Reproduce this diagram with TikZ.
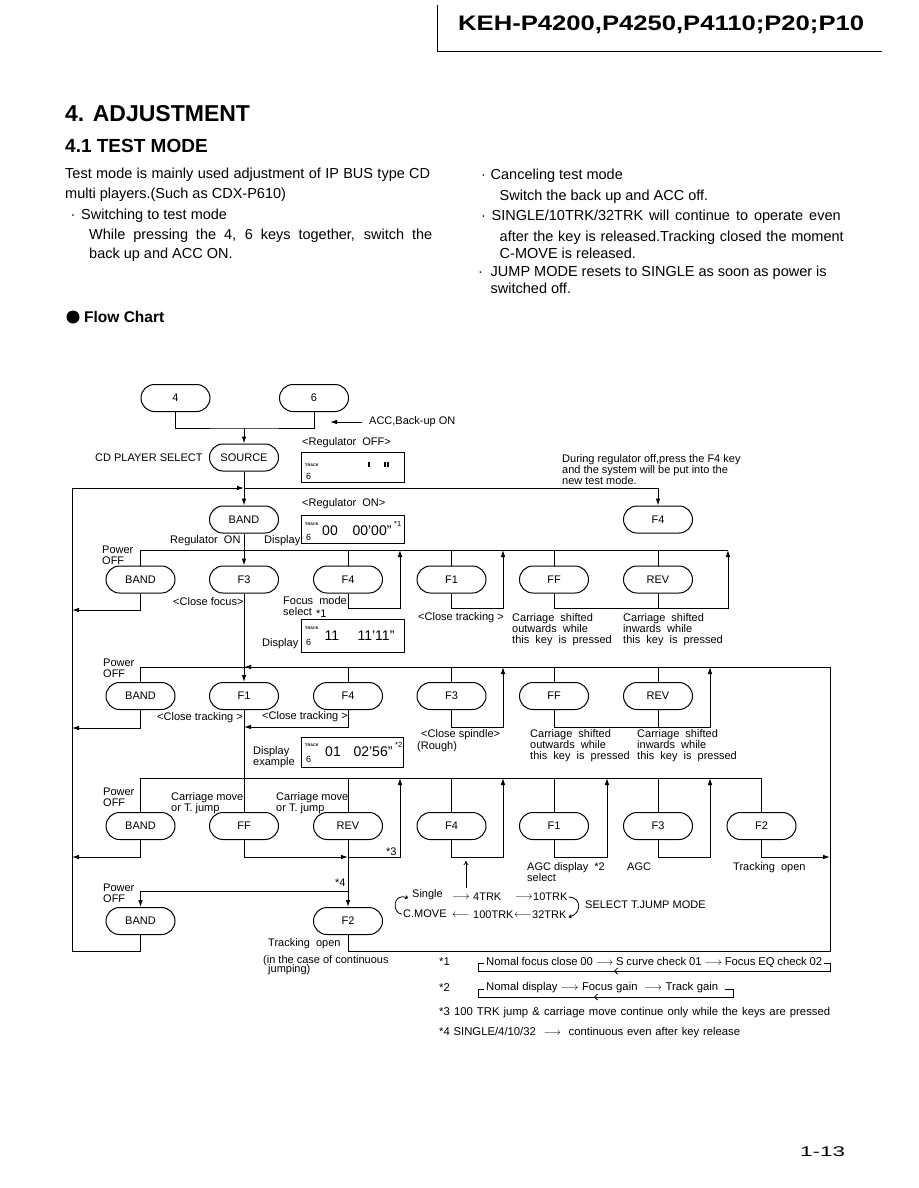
\documentclass[tikz,border=0pt]{standalone}
\usepackage{fontspec}
\usepackage{graphicx}
\setmainfont{Liberation Sans}
\usetikzlibrary{arrows.meta}
\newcommand\fl{\fontsize{11}{11}\selectfont}
\newcommand\bd{\fontsize{14.5}{17}\selectfont}
\newcommand\fnt{\fontsize{11.3}{12}\selectfont}
\newcommand\seg{\fontsize{14}{14}\selectfont}
\newcommand\trk{\fontsize{3.8}{4}\selectfont\bfseries}
\begin{document}
\begin{tikzpicture}[x=1pt,y=-1pt,
 ln/.style={line width=1pt},
 arr/.style={line width=1pt,-{Latex[length=7pt,width=4.6pt]}},
 pill/.style={draw,line width=1pt,rounded corners=13.5pt,minimum width=69pt,minimum height=27pt,inner sep=0pt,font=\fl},
 disp/.style={draw,line width=1pt,anchor=north west,inner sep=0pt},
 tx/.style={inner sep=0pt,anchor=west,font=\fl},
 txm/.style={inner sep=0pt,anchor=north west,align=left,font=\fl},
 bt/.style={inner sep=0pt,anchor=base west,font=\bd},
 fn/.style={inner sep=0pt,anchor=west,font=\fnt},
 sg/.style={inner sep=0pt,font=\seg},
 tk/.style={inner sep=0pt,anchor=west,font=\trk},
 six/.style={inner sep=0pt,anchor=west,font=\fontsize{9}{9}\selectfont},
 thinl/.style={line width=0.8pt}]
\useasboundingbox (0,0) rectangle (918,1188);
% header
\draw[ln] (437,5) -- (437,52) -- (882,52);
\node[inner sep=0pt,anchor=west] (title) at (458,25) {\scalebox{1.22}[1]{\bfseries\fontsize{21}{21}\selectfont KEH-P4200,P4250,P4110;P20;P10}};
% headings
\node[inner sep=0pt,anchor=base west,font=\bfseries\fontsize{23}{23}\selectfont] (h1) at (65,122) {4. ADJUSTMENT};
\node[inner sep=0pt,anchor=base west,font=\bfseries\fontsize{19}{19}\selectfont] (h2) at (65,153) {4.1 TEST MODE};
% body
\node[bt] (l1) at (65,178.5) {\makebox[365pt][s]{Test mode is mainly used adjustment of IP BUS type CD}};
\node[bt] (l2) at (65,198) {multi players.(Such as CDX-P610)};
\node[bt] (l3b) at (70.5,219) {·};
\node[bt] (l3) at (81,219) {Switching to test mode};
\node[bt] (l4) at (89,239.5) {\makebox[343pt][s]{While pressing the 4, 6 keys together, switch the}};
\node[bt] (l5) at (89,258.5) {back up and ACC ON.};
\node[bt] (r1b) at (481,179) {·};
\node[bt] (r1) at (490.5,179) {Canceling test mode};
\node[bt] (r2) at (499.5,200) {Switch the back up and ACC off.};
\node[bt] (r3b) at (481,220) {·};
\node[bt] (r3) at (491.5,220) {\makebox[349pt][s]{SINGLE/10TRK/32TRK will continue to operate even}};
\node[bt] (r4) at (499.5,241) {\makebox[344pt][s]{after the key is released.Tracking closed the moment}};
\node[bt] (r5) at (499.5,258.5) {C-MOVE is released.};
\node[bt] (r6b) at (478,276.5) {·};
\node[bt] (r6) at (490.5,276.5) {JUMP MODE resets to SINGLE as soon as power is};
\node[bt] (r7) at (490.5,293.5) {switched off.};
% flow chart title
\node[circle,fill,inner sep=0pt,minimum size=13pt] (bul) at (73,317) {};
\node[inner sep=0pt,anchor=base west,font=\bfseries\fontsize{15.5}{16}\selectfont] (fc) at (84,322.5) {Flow Chart};
% pills
\node[pill] (k4) at (175.5,398) {4};
\node[pill] (k6) at (314,398) {6};
\node[pill] (src) at (244,457.5) {SOURCE};
\node[pill] (band0) at (244,519.5) {BAND};
\node[pill] (f4n) at (658,519.5) {F4};
\node[pill] (a1) at (140.5,579.5) {BAND};
\node[pill] (a2) at (244,579.5) {F3};
\node[pill] (a3) at (348,579.5) {F4};
\node[pill] (a4) at (451.5,579.5) {F1};
\node[pill] (a5) at (554,579.5) {FF};
\node[pill] (a6) at (658,579.5) {REV};
\node[pill] (b1) at (140.5,696) {BAND};
\node[pill] (b2) at (244,696) {F1};
\node[pill] (b3) at (348,696) {F4};
\node[pill] (b4) at (451.5,696) {F3};
\node[pill] (b5) at (554,696) {FF};
\node[pill] (b6) at (658,696) {REV};
\node[pill] (c1) at (140.5,826) {BAND};
\node[pill] (c2) at (244,826) {FF};
\node[pill] (c3) at (348,826) {REV};
\node[pill] (c4) at (451.5,826) {F4};
\node[pill] (c5) at (554,826) {F1};
\node[pill] (c6) at (658,826) {F3};
\node[pill] (c7) at (761.5,826) {F2};
\node[pill] (d1) at (140.5,921) {BAND};
\node[pill] (d2) at (348,921) {F2};
% coordinates
\coordinate (j0) at (244,428);
\coordinate (lbtop) at (72,488);
\coordinate (j1) at (244,488);
\coordinate (lbot) at (72,951);
\coordinate (rtop) at (830,667);
\coordinate (rbot) at (830,951);
\coordinate (e1) at (728,550);
\coordinate (e3) at (761.5,778);
\coordinate (j4) at (348,891);
\coordinate (acctip) at (330,422);
% top connectors
\draw[ln] (k4.south) |- (j0) -| (k6.south);
\draw[arr] (j0) -- (src.north);
\draw[arr] (src.south) -- (band0.north);
\draw[arr] (lbtop) -- (j1);
\draw[arr] (j1) -| (f4n.north);
\draw[ln] (d1.south) |- (lbot) -- (lbtop);
\draw[ln] (d2.south) |- (rbot) -- (rtop);
% row 1
\draw[arr] (band0.south) -- (a2.north);
\draw[ln] (a1.north) |- (e1);
\draw[ln] (a3.north) -- (a3.north |- e1);
\draw[ln] (a4.north) -- (a4.north |- e1);
\draw[ln] (a5.north) -- (a5.north |- e1);
\draw[ln] (a6.north) -- (a6.north |- e1);
\draw[arr] (a1.south) |- (72,610);
\draw[arr] (a3.south) |- (400,608) -- (400,550);
\draw[arr] (a4.south) |- (503,608) -- (503,550);
\draw[arr] (a5.south) |- (728,608) -- (e1);
\draw[ln] (a6.south) -- (658,608);
% row 2
\draw[arr] (a2.south) -- (b2.north);
\draw[ln] (b1.north) |- (rtop);
\draw[arr] (b3.north |- rtop) -- (b2.north |- rtop);
\draw[ln] (b3.north) -- (b3.north |- rtop);
\draw[ln] (b4.north) -- (b4.north |- rtop);
\draw[ln] (b5.north) -- (b5.north |- rtop);
\draw[ln] (b6.north) -- (b6.north |- rtop);
\draw[arr] (b1.south) |- (72,728);
\draw[arr] (b3.south) |- (244,727);
\draw[arr] (b4.south) |- (503,727) -- (503,667);
\draw[arr] (b5.south) |- (710,727) -- (710,667);
\draw[ln] (b6.south) -- (658,727);
% row 3
\draw[ln] (b2.south) -- (c2.north);
\draw[ln] (c1.north) |- (e3) -- (c7.north);
\draw[ln] (c3.north) -- (348,778);
\draw[ln] (c4.north) -- (451.5,778);
\draw[ln] (c5.north) -- (554,778);
\draw[ln] (c6.north) -- (658,778);
\draw[arr] (c1.south) |- (72,857);
\draw[arr] (c2.south) |- (348,857);
\draw[arr] (348,857) -- (400,857) -- (400,778);
\draw[ln] (c3.south) -- (j4);
\draw[arr] (j4) -- (d2.north);
\draw[arr] (j4) -| (d1.north);
\draw[arr] (c4.south) |- (503,857) -- (503,778);
\draw[arr] (c5.south) |- (607,857) -- (607,778);
\draw[arr] (c6.south) |- (710,857) -- (710,778);
\draw[arr] (c7.south) |- (830,857);
\draw[line width=0.7pt,-{To[length=4pt,width=5pt]}] (466,888) -- (466,861);
% display boxes
\node[disp,minimum width=103pt,minimum height=30pt] (dp0) at (301,452) {};
\node[tk] (dp0t) at (305,465) {TRACK};
\node[six] (dp0s) at (306,476) {6};
\fill (367.5,462) rectangle (369.5,467);
\fill (383.5,462) rectangle (385.5,467);
\fill (386.5,462) rectangle (388.5,467);
\node[disp,minimum width=103pt,minimum height=28pt] (dp1) at (301,515) {};
\node[tk] (dp1t) at (305,524) {TRACK};
\node[six] (dp1s) at (306,537) {6};
\node[sg] (dp1a) at (330,531) {00};
\node[sg] (dp1b) at (372,531) {00'00"};
\node[tx,font=\fontsize{7.5}{8}\selectfont] (dp1c) at (394,524) {*1};
\node[disp,minimum width=103pt,minimum height=33pt] (dp2) at (301,619) {};
\node[tk] (dp2t) at (305,628) {TRACK};
\node[six] (dp2s) at (306,642) {6};
\node[sg] (dp2a) at (332,636) {11};
\node[sg] (dp2b) at (376,636) {11'11"};
\node[disp,minimum width=102pt,minimum height=30pt] (dp3) at (301,737) {};
\node[tk] (dp3t) at (305,745) {TRACK};
\node[six] (dp3s) at (306,759) {6};
\node[sg] (dp3a) at (333,752) {01};
\node[sg] (dp3b) at (373,752) {02'56"};
\node[tx,font=\fontsize{7.5}{8}\selectfont] (dp3c) at (395,745) {*2};
% labels
\node[tx] (acc) at (369,422) {ACC,Back-up ON};
\draw[arr] ([xshift=-7pt]acc.west) -- (acctip);
\node[tx] (regoff) at (302,443) {<Regulator\ \ OFF>};
\node[tx] (cdsel) at (95,458) {CD PLAYER SELECT};
\node[tx] (regon) at (302,504) {<Regulator\ \ ON>};
\node[txm] (during) at (562,454) {During regulator off,press the F4 key\\and the system will be put into the\\new test mode.};
\node[tx] (regon2) at (170,541) {Regulator\ \ ON};
\node[tx] (dlab1) at (264,541) {Display};
\node[txm] (pw1) at (102,546) {Power\\OFF};
\node[txm] (pw2) at (103,659) {Power\\OFF};
\node[txm] (pw3) at (103,788) {Power\\OFF};
\node[txm] (pw4) at (103,884) {Power\\OFF};
\node[tx] (clf) at (173,602) {<Close focus>};
\node[tx] (fm) at (283,601) {Focus\ \ mode};
\node[tx] (sel1) at (283,612) {select};
\node[tx] (st1) at (316,613.5) {*1};
\node[tx] (dlab2) at (262,644) {Display};
\node[tx] (ct1) at (418,618) {<Close tracking >};
\node[txm] (cs1) at (512,613) {Carriage\ \ shifted\\outwards\ \ while\\this\ \ key\ \ is\ \ pressed};
\node[txm] (cs2) at (623,613) {Carriage\ \ shifted\\inwards\ \ while\\this\ \ key\ \ is\ \ pressed};
\node[tx] (ct2) at (157,718) {<Close tracking >};
\node[tx] (ct3) at (262,717) {<Close tracking >};
\node[tx] (csp) at (421,735) {<Close spindle>};
\node[tx] (rgh) at (417,747) {(Rough)};
\node[txm] (dex) at (253,746) {Display\\example};
\node[txm] (cs3) at (530,729) {Carriage\ \ shifted\\outwards\ \ while\\this\ \ key\ \ is\ \ pressed};
\node[txm] (cs4) at (637,729) {Carriage\ \ shifted\\inwards\ \ while\\this\ \ key\ \ is\ \ pressed};
\node[txm] (cm1) at (171,792) {Carriage move\\or T. jump};
\node[txm] (cm2) at (276,792) {Carriage move\\or T. jump};
\node[tx] (s3) at (386,852) {*3};
\node[tx] (s4) at (335,883) {*4};
\node[txm] (agc1) at (527,862) {AGC display\ \ *2\\select};
\node[tx] (agc2) at (627,867) {AGC};
\node[tx] (tro1) at (733,868) {Tracking\ \ open};
\node[tx] (tro2) at (268,944) {Tracking\ \ open};
\node[tx] (inc) at (263,961) {(in the case of continuous};
\node[tx] (jmp) at (268,970) {jumping)};
% jump cycle
\node[tx] (sgl) at (412,895) {Single};
\node[inner sep=0pt,font=\fl] (ar1) at (461,897) {$\longrightarrow$};
\node[tx] (t4) at (473,897) {4TRK};
\node[inner sep=0pt,font=\fl] (ar2) at (524,897) {$\longrightarrow$};
\node[tx] (t10) at (533,897) {10TRK};
\node[tx] (cmv) at (403,914) {C.MOVE};
\node[inner sep=0pt,font=\fl] (ar3) at (461,915) {$\longleftarrow$};
\node[tx] (t100) at (473,915) {100TRK};
\node[inner sep=0pt,font=\fl] (ar4) at (523,915) {$\longleftarrow$};
\node[tx] (t32) at (532,915) {32TRK};
\node[tx] (sel) at (585,905) {SELECT T.JUMP MODE};
\draw[thinl,-{To[length=3pt,width=4pt]}] ([xshift=-1pt]cmv.west) .. controls (392,914) and (392,892) .. ([xshift=-4pt,yshift=-3pt]sgl.west);
\draw[thinl,-{To[length=3pt,width=4pt]}] ([xshift=1pt]t10.east) .. controls (582,897) and (582,914) .. ([xshift=2pt,yshift=-2pt]t32.east);
% footnotes
\node[fn] (n1) at (439,962) {*1};
\node[fn] (n1t) at (486,962) {\makebox[336pt][s]{Nomal focus close 00 $\longrightarrow$ S curve check 01 $\longrightarrow$ Focus EQ check 02}};
\draw[thinl] (484,963) -| (478,971) -- (616,971);
\draw[thinl,-{Straight Barb[length=3pt,width=6pt]}] (824,963) -| (830,971) -- (614,971);
\node[fn] (n2) at (439,988) {*2};
\node[fn] (n2t) at (486,988) {\makebox[232pt][s]{Nomal display $\longrightarrow$ Focus gain \ $\longrightarrow$ Track gain}};
\draw[thinl] (484,989) -| (478,997) -- (598,997);
\draw[thinl,-{Straight Barb[length=3pt,width=6pt]}] (725,989) -| (733,997) -- (594,997);
\node[fn] (n3) at (439,1013) {\makebox[391pt][s]{*3 100 TRK jump \& carriage move continue only while the keys are pressed}};
\node[fn] (n4) at (439,1033) {\makebox[301pt][s]{*4 SINGLE/4/10/32 \ $\longrightarrow$ \ continuous even after key release}};
% page number
\node[inner sep=0pt,anchor=west] (pg) at (800,1152) {\scalebox{1.6}[1]{\fontsize{14}{14}\selectfont 1-13}};
\end{tikzpicture}
\end{document}
